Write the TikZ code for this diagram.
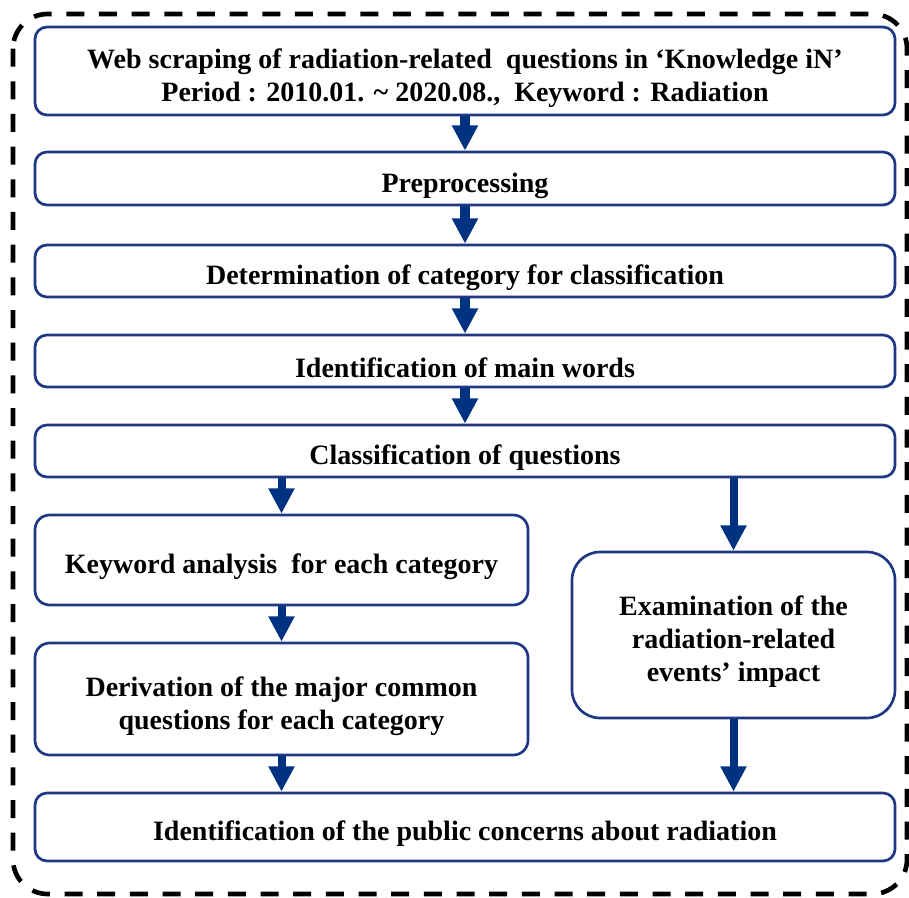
\documentclass[tikz,border=0pt]{standalone}
\usepackage{fontspec}
\setmainfont{Liberation Serif}
\usetikzlibrary{arrows.meta}
\definecolor{boxblue}{RGB}{30,56,132}
\definecolor{arrowblue}{RGB}{0,50,130}
\newcommand{\topstrut}{\rule{0pt}{25pt}}
\tikzset{
  stepbox/.style={draw=boxblue, line width=2pt, rounded corners=9pt, fill=white,
    inner sep=0pt, align=center, font=\fontsize{21}{24.75}\selectfont\bfseries},
  flow/.style={draw=arrowblue, line width=7pt,
    -{Triangle[width=18.5pt,length=19pt]}},
  outline/.style={draw=black, line width=3.5pt, dash pattern=on 13.5pt off 11pt,
    rounded corners=26pt}
}
\begin{document}
\begin{tikzpicture}[x=0.75pt,y=-0.75pt]
\useasboundingbox (0,0) rectangle (909,898);
\draw[outline] (13,14) rectangle (907,894);

\node[stepbox, minimum width=645pt, minimum height=66pt] (b1) at (465,71)
  {\topstrut Web scraping of radiation-related \ questions in ‘Knowledge iN’\\
   Period : 2010.01. \textasciitilde\ 2020.08., \ Keyword : Radiation};
\node[stepbox, minimum width=645pt, minimum height=39.75pt] (b2) at (465,178.5) {\topstrut Preprocessing};
\node[stepbox, minimum width=645pt, minimum height=39pt] (b3) at (465,271) {\topstrut Determination of category for classification};
\node[stepbox, minimum width=645pt, minimum height=39pt] (b4) at (465,361) {\topstrut Identification of main words};
\node[stepbox, minimum width=645pt, minimum height=39pt] (b5) at (465,451) {\topstrut Classification of questions};
\node[stepbox, rounded corners=11pt, minimum width=369.75pt, minimum height=67.5pt] (kw) at (281.5,560) {\topstrut Keyword analysis \ for each category};
\node[stepbox, rounded corners=11pt, minimum width=369.75pt, minimum height=84pt] (dv) at (281.5,699) {\topstrut Derivation of the major common\\questions for each category};
\node[stepbox, rounded corners=21pt, minimum width=242.25pt, minimum height=124.5pt] (ex) at (733.5,635) {\topstrut Examination of the\\radiation-related\\events’ impact};
\node[stepbox, minimum width=645pt, minimum height=51pt] (fin) at (465,827) {\topstrut Identification of the public concerns about radiation};

\draw[flow] (b1) -- (b2);
\draw[flow] (b2) -- (b3);
\draw[flow] (b3) -- (b4);
\draw[flow] (b4) -- (b5);
\draw[flow, line width=6pt] (b5.south -| kw.north) -- (kw.north);
\draw[flow, line width=6pt] (kw) -- (dv);
\draw[flow, line width=6pt] (dv.south) -- (fin.north -| dv.south);
\draw[flow, line width=6pt] (b5.south -| ex.north) -- (ex.north);
\draw[flow, line width=6pt] (ex.south) -- (fin.north -| ex.south);
\end{tikzpicture}
\end{document}
